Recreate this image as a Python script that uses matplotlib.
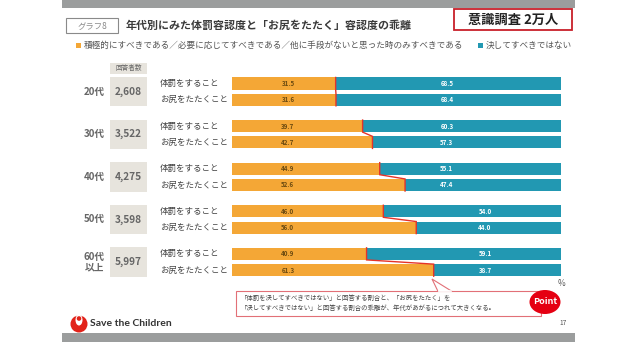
import matplotlib
matplotlib.use("Agg")
import matplotlib.pyplot as plt
import matplotlib.patches as patches

plt.rcParams["font.family"] = ["Noto Sans CJK JP", "DejaVu Sans"]

# data
AGES = ["20代", "30代", "40代", "50代", "60代\n以上"]
RESPONDENTS = ["2,608", "3,522", "4,275", "3,598", "5,997"]
ITEMS = ["体罰をすること", "お尻をたたくこと"]
ACCEPT_PUNISH = [31.5, 39.7, 44.9, 46.0, 40.9]
NEVER_PUNISH = [68.5, 60.3, 55.1, 54.0, 59.1]
ACCEPT_SPANK = [31.6, 42.7, 52.6, 56.0, 61.3]
NEVER_SPANK = [68.4, 57.3, 47.4, 44.0, 38.7]
LEGEND = ["積極的にすべきである／必要に応じてすべきである／他に手段がないと思った時のみすべきである",
          "決してすべきではない"]
TITLE = "年代別にみた体罰容認度と「お尻をたたく」容認度の乖離"
NOTE = ["「体罰を決してすべきではない」と回答する割合と、「お尻をたたく」を",
        "「決してすべきではない」と回答する割合の乖離が、年代があがるにつれて大きくなる。"]

ORANGE = "#F4A736"
TEAL = "#2298B2"
RED = "#E5332A"
BOX = "#E7E4DD"
GRAY_TXT = "#555555"

W, H = 638, 342
# pixel layout of the bar block
X0, SX = 232, 3.29      # px of 0 %, px per %
Y0, SY = 83.5, 16.3     # px of first bar centre, px per row
GAP = 2.613             # rows between age groups
BAR_H = 0.74
TEAL_LABEL_X = [65.3, 65.3, 65.3, 76.9, 76.9]

fig = plt.figure(figsize=(W / 100, H / 100), dpi=100)

# slide decorations in pixel coordinates
bg = fig.add_axes([0, 0, 1, 1])
bg.set_xlim(0, W)
bg.set_ylim(H, 0)
bg.axis("off")

bg.add_patch(patches.Rectangle((62, 0), 513, 7.5, color="#9B9D9D", lw=0))
bg.add_patch(patches.Rectangle((62, 333), 513, 9, color="#9B9D9D", lw=0))

bg.add_patch(patches.Rectangle((66, 18), 52, 15, fill=False, ec="#8a8a8a", lw=0.8))
bg.text(92, 25.5, "グラフ8", ha="center", va="center", fontsize=6, color="#8a8a8a")
bg.text(126, 26, TITLE, ha="left", va="center", fontsize=7.9, fontweight="bold", color="#3a3a3a")

bg.add_patch(patches.Rectangle((454, 9), 118, 21, fill=False, ec="#C8202A", lw=1.3))
bg.text(513, 19.5, "意識調査 2万人", ha="center", va="center", fontsize=9.5,
        fontweight="bold", color="#222222")

bg.add_patch(patches.Rectangle((76, 42.5), 5, 5, color=ORANGE, lw=0))
bg.text(84, 45, LEGEND[0], ha="left", va="center", fontsize=6.2, color=GRAY_TXT)
bg.add_patch(patches.Rectangle((478, 42.5), 5, 5, color=TEAL, lw=0))
bg.text(572, 45, LEGEND[1], ha="right", va="center", fontsize=6.2, color=GRAY_TXT)

bg.add_patch(patches.Rectangle((110, 63), 37, 10.5, color=BOX, lw=0))
bg.text(128.5, 68.2, "回答者数", ha="center", va="center", fontsize=4.8, color="#666666")

bg.text(561, 284, "%", ha="center", va="center", fontsize=6, color=GRAY_TXT)

# callout
bg.add_patch(patches.Rectangle((236, 291), 305, 25, fc="white", ec="#E27077", lw=0.8))
bg.add_patch(patches.Polygon([(438, 291.4), (432, 279), (452, 291.4)],
                             closed=False, fc="white", ec="#E27077", lw=0.8))
bg.plot([438.6, 451.4], [291.4, 291.4], color="white", lw=1.2)
bg.text(241, 298, NOTE[0], ha="left", va="center", fontsize=4.6, color="#444444")
bg.text(241, 308, NOTE[1], ha="left", va="center", fontsize=4.6, color="#444444")
bg.add_patch(patches.Ellipse((545, 302), 31, 24, color="#E50012", lw=0))
bg.text(545, 302, "Point", ha="center", va="center", fontsize=6.5, fontweight="bold", color="white")

# footer logo
bg.add_patch(patches.Ellipse((79, 324), 17, 17, color="#E2231A", lw=0))
bg.add_patch(patches.Ellipse((79, 320), 7, 11, color="white", lw=0))
bg.add_patch(patches.Circle((79, 318.5), 2.3, color="#E2231A", lw=0))
bg.text(90, 324, "Save the Children", ha="left", va="center", fontsize=7.5,
        fontweight="bold", color="#333333", family=["Lato", "DejaVu Sans"])
bg.text(563, 323, "17", ha="center", va="center", fontsize=4.8, color=GRAY_TXT)

# bar block in percent / row units
ax = fig.add_axes([0, 0, 1, 1])
ax.patch.set_alpha(0)
ax.set_xlim(-X0 / SX, (W - X0) / SX)
ax.set_ylim((H - Y0) / SY, -Y0 / SY)
ax.axis("off")

groups = range(len(AGES))
for j, (acc, nev) in enumerate([(ACCEPT_PUNISH, NEVER_PUNISH), (ACCEPT_SPANK, NEVER_SPANK)]):
    ys = [i * GAP + j for i in groups]
    ax.barh(ys, acc, height=BAR_H, color=ORANGE, lw=0)
    ax.barh(ys, nev, left=acc, height=BAR_H, color=TEAL, lw=0)
    for i, y in zip(groups, ys):
        ax.text(17, y, f"{acc[i]:.1f}", ha="center", va="center", fontsize=4.5,
                fontweight="bold", color="#6b4a10")
        ax.text(TEAL_LABEL_X[i], y, f"{nev[i]:.1f}", ha="center", va="center",
                fontsize=4.5, fontweight="bold", color="white")
        ax.text(-21.9, y, ITEMS[j], ha="left", va="center", fontsize=6.1, color="#444444")

for i in groups:
    y0 = i * GAP
    a, b = ACCEPT_PUNISH[i], ACCEPT_SPANK[i]
    ax.plot([a, a, b, b], [y0 - BAR_H / 2, y0 + BAR_H / 2, y0 + 1 - BAR_H / 2, y0 + 1 + BAR_H / 2],
            color=RED, lw=1.0, solid_joinstyle="miter")
    ax.add_patch(patches.Rectangle((-37.1, y0 - 0.4), 11.3, 1.8, color=BOX, lw=0))
    ax.text(-31.45, y0 + 0.5, RESPONDENTS[i], ha="center", va="center", fontsize=7.3,
            fontweight="bold", color="#666666")
    ax.text(-38.7, y0 + 0.5, AGES[i], ha="right", va="center", fontsize=7,
            fontweight="bold", color="#666666", linespacing=1.0)

fig.savefig("out.png", dpi=100)
